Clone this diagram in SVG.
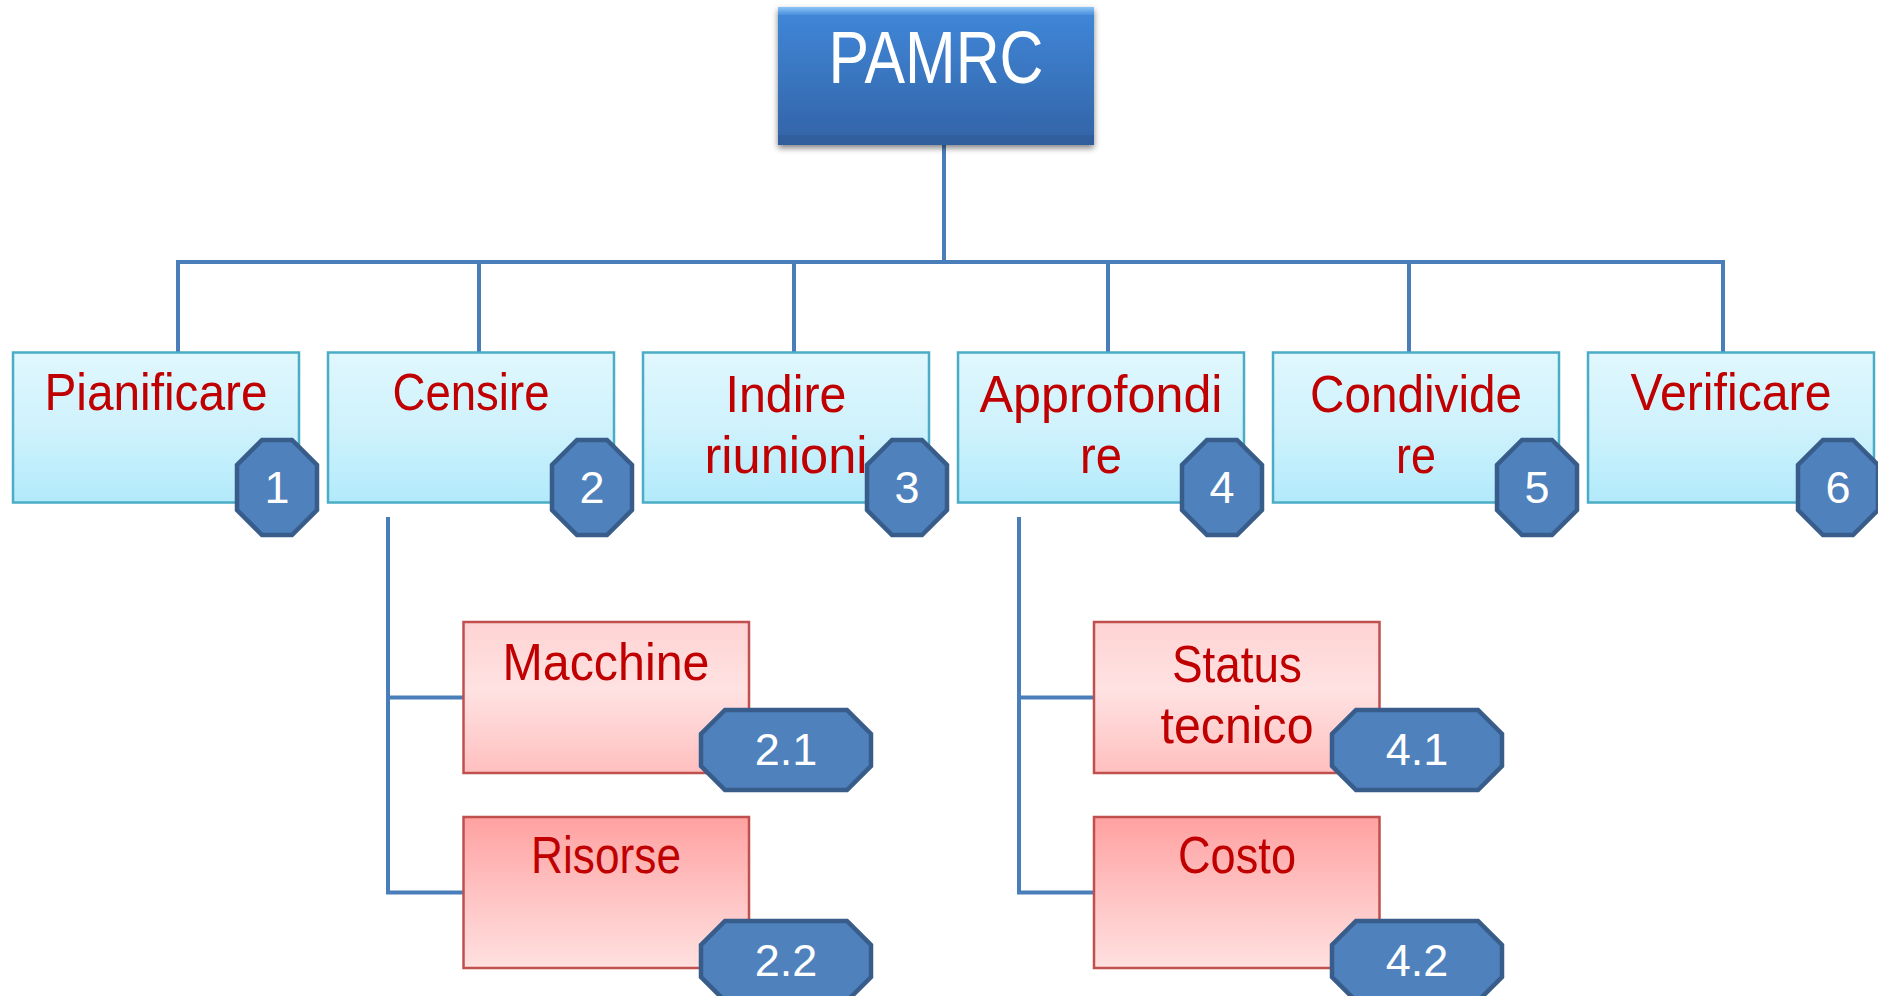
<svg xmlns="http://www.w3.org/2000/svg" width="1878" height="996" viewBox="0 0 1878 996">
<defs>
<linearGradient id="gTop" x1="0" y1="0" x2="0" y2="1">
<stop offset="0" stop-color="#E0F7FD"/>
<stop offset="0.5" stop-color="#CFF2FC"/>
<stop offset="1" stop-color="#B2EAFB"/>
</linearGradient>
<linearGradient id="gPink1" x1="0" y1="0" x2="0" y2="1">
<stop offset="0" stop-color="#FFD3D3"/>
<stop offset="0.45" stop-color="#FFE2E2"/>
<stop offset="1" stop-color="#FFBFBF"/>
</linearGradient>
<linearGradient id="gPink2" x1="0" y1="0" x2="0" y2="1">
<stop offset="0" stop-color="#FFA1A1"/>
<stop offset="0.5" stop-color="#FFC2C2"/>
<stop offset="1" stop-color="#FFE0E0"/>
</linearGradient>
<linearGradient id="gBlue" x1="0" y1="0" x2="0" y2="1">
<stop offset="0" stop-color="#4088DA"/>
<stop offset="1" stop-color="#3363A6"/>
</linearGradient>
<linearGradient id="gHi" x1="0" y1="0" x2="0" y2="1">
<stop offset="0" stop-color="#8CC4F5"/>
<stop offset="1" stop-color="#4A8FDD"/>
</linearGradient>
<filter id="shadow" x="-10%" y="-10%" width="120%" height="130%">
<feGaussianBlur in="SourceAlpha" stdDeviation="3"/>
<feOffset dx="0" dy="3" result="b"/>
<feComponentTransfer><feFuncA type="linear" slope="0.5"/></feComponentTransfer>
<feMerge><feMergeNode/><feMergeNode in="SourceGraphic"/></feMerge>
</filter>
<polygon id="oct" points="-15,-47.5 15,-47.5 40,-22.5 40,22.5 15,47.5 -15,47.5 -40,22.5 -40,-22.5"/>
<polygon id="oct2" points="-61,-40 61,-40 85,-16 85,16 61,40 -61,40 -85,16 -85,-16"/>
</defs>
<style>
.conn{stroke:#4A7EBB;stroke-width:4;fill:none}
.top{fill:url(#gTop);stroke:#4BACC6;stroke-width:2.5}
.p1{fill:url(#gPink1);stroke:#C0504D;stroke-width:2.5}
.p2{fill:url(#gPink2);stroke:#C0504D;stroke-width:2.5}
.lbl{font-family:"Liberation Sans Narrow","Liberation Sans",Arial,sans-serif;font-size:52px;fill:#C00000;text-anchor:middle}
.badge{fill:#4F81BD;stroke:#385D8A;stroke-width:4.5}
.num{font-family:"Liberation Sans Narrow","Liberation Sans",Arial,sans-serif;font-size:45px;fill:#FFFFFF;text-anchor:middle}
.title{font-family:"Liberation Sans Narrow","Liberation Sans",Arial,sans-serif;font-size:75px;fill:#FFFFFF;text-anchor:middle}
</style>
<rect width="1878" height="996" fill="#FFFFFF"/>
<g id="connectors">
<path class="conn" d="M944,145 V262 M178,262 H1723 M178,260 V352 M479,260 V352 M794,260 V352 M1108,260 V352 M1409,260 V352 M1723,260 V352"/>
<path class="conn" d="M388,517 V892.5 H463.5 M388,697.5 H463.5"/>
<path class="conn" d="M1019,517 V892.5 H1094 M1019,697.5 H1094"/>
</g>
<g id="PAMRC">
<rect x="778" y="7" width="316" height="138" fill="url(#gBlue)" filter="url(#shadow)"/>
<rect x="778" y="7" width="316" height="8" fill="url(#gHi)"/>
<rect x="778" y="135" width="316" height="10" fill="#2F5A96" opacity="0.6"/>
<text class="title" x="936" y="83" textLength="215" lengthAdjust="spacingAndGlyphs">PAMRC</text>
</g>
<g id="n1">
<rect class="top" x="13" y="352.5" width="286" height="150"/>
<text class="lbl" x="156" y="410" textLength="223" lengthAdjust="spacingAndGlyphs">Pianificare</text>
<use href="#oct" class="badge" x="277" y="487.5"/>
<text class="num" x="277" y="503">1</text>
</g>
<g id="n2">
<rect class="top" x="328" y="352.5" width="286" height="150"/>
<text class="lbl" x="471" y="410" textLength="157" lengthAdjust="spacingAndGlyphs">Censire</text>
<use href="#oct" class="badge" x="592" y="487.5"/>
<text class="num" x="592" y="503">2</text>
</g>
<g id="n3">
<rect class="top" x="643" y="352.5" width="286" height="150"/>
<text class="lbl" x="786" y="412" textLength="121" lengthAdjust="spacingAndGlyphs">Indire</text>
<text class="lbl" x="786" y="472.5" textLength="163" lengthAdjust="spacingAndGlyphs">riunioni</text>
<use href="#oct" class="badge" x="907" y="487.5"/>
<text class="num" x="907" y="503">3</text>
</g>
<g id="n4">
<rect class="top" x="958" y="352.5" width="286" height="150"/>
<text class="lbl" x="1101" y="412" textLength="243" lengthAdjust="spacingAndGlyphs">Approfondi</text>
<text class="lbl" x="1101" y="472.5" textLength="42" lengthAdjust="spacingAndGlyphs">re</text>
<use href="#oct" class="badge" x="1222" y="487.5"/>
<text class="num" x="1222" y="503">4</text>
</g>
<g id="n5">
<rect class="top" x="1273" y="352.5" width="286" height="150"/>
<text class="lbl" x="1416" y="412" textLength="212" lengthAdjust="spacingAndGlyphs">Condivide</text>
<text class="lbl" x="1416" y="472.5" textLength="40" lengthAdjust="spacingAndGlyphs">re</text>
<use href="#oct" class="badge" x="1537" y="487.5"/>
<text class="num" x="1537" y="503">5</text>
</g>
<g id="n6">
<rect class="top" x="1588" y="352.5" width="286" height="150"/>
<text class="lbl" x="1731" y="410" textLength="201" lengthAdjust="spacingAndGlyphs">Verificare</text>
<use href="#oct" class="badge" x="1838" y="487.5"/>
<text class="num" x="1838" y="503">6</text>
</g>
<g id="n2-1">
<rect class="p1" x="463.5" y="622" width="285.5" height="151"/>
<text class="lbl" x="606" y="680" textLength="207" lengthAdjust="spacingAndGlyphs">Macchine</text>
<use href="#oct2" class="badge" x="786" y="750"/>
<text class="num" x="786" y="765">2.1</text>
</g>
<g id="n2-2">
<rect class="p2" x="463.5" y="817" width="285.5" height="151"/>
<text class="lbl" x="606" y="873" textLength="150" lengthAdjust="spacingAndGlyphs">Risorse</text>
<use href="#oct2" class="badge" x="786" y="961"/>
<text class="num" x="786" y="976">2.2</text>
</g>
<g id="n4-1">
<rect class="p1" x="1094" y="622" width="285.5" height="151"/>
<text class="lbl" x="1237" y="682" textLength="130" lengthAdjust="spacingAndGlyphs">Status</text>
<text class="lbl" x="1237" y="743" textLength="153" lengthAdjust="spacingAndGlyphs">tecnico</text>
<use href="#oct2" class="badge" x="1417" y="750"/>
<text class="num" x="1417" y="765">4.1</text>
</g>
<g id="n4-2">
<rect class="p2" x="1094" y="817" width="285.5" height="151"/>
<text class="lbl" x="1237" y="873" textLength="118" lengthAdjust="spacingAndGlyphs">Costo</text>
<use href="#oct2" class="badge" x="1417" y="961"/>
<text class="num" x="1417" y="976">4.2</text>
</g>
</svg>
